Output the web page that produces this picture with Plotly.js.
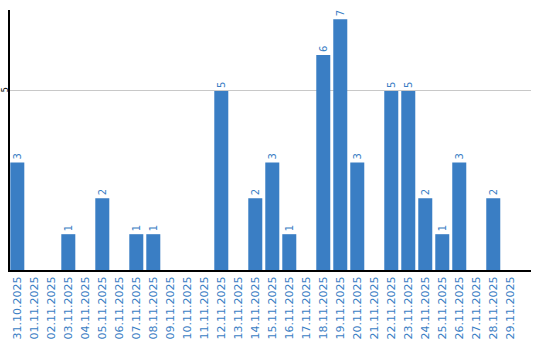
<!DOCTYPE html>
<html><head><meta charset="utf-8">
<script src="https://cdn.plot.ly/plotly-3.0.1.min.js"></script>
<style>html,body{margin:0;padding:0;background:#fff}#c{width:540px;height:340px}</style>
</head><body><div id="c"></div>
<script>
const dates = ["31.10.2025","01.11.2025","02.11.2025","03.11.2025","04.11.2025","05.11.2025","06.11.2025","07.11.2025","08.11.2025","09.11.2025","10.11.2025","11.11.2025","12.11.2025","13.11.2025","14.11.2025","15.11.2025","16.11.2025","17.11.2025","18.11.2025","19.11.2025","20.11.2025","21.11.2025","22.11.2025","23.11.2025","24.11.2025","25.11.2025","26.11.2025","27.11.2025","28.11.2025","29.11.2025"];
const counts = [3,0,0,1,0,2,0,1,1,0,0,0,5,0,2,3,1,0,6,7,3,0,5,5,2,1,3,0,2,0];
const yTicks = [5];
const blue = "#3a7ec4";
Plotly.newPlot("c", [{
  type: "bar",
  x: dates,
  y: counts,
  marker: {color: blue},
  text: counts.map(v => v ? String(v) : ""),
  textposition: "outside",
  textangle: -90,
  textfont: {family: "DejaVu Sans, sans-serif", size: 10, color: blue},
  cliponaxis: false,
  hoverinfo: "none"
}], {
  width: 540, height: 340,
  margin: {l: 10, r: 9, t: 10, b: 70},
  paper_bgcolor: "#fff", plot_bgcolor: "#fff",
  bargap: 0.176,
  showlegend: false,
  xaxis: {
    type: "category",
    range: [-0.43, 30.22],
    tickangle: -90,
    tickfont: {family: "DejaVu Sans, sans-serif", size: 11, color: blue},
    showline: true, linecolor: "#000", linewidth: 2,
    showgrid: false, ticks: "", ticklen: 0
  },
  yaxis: {
    range: [0, 7.26],
    tickvals: yTicks,
    ticktext: yTicks.map(String),
    tickangle: -90,
    tickfont: {family: "DejaVu Sans, sans-serif", size: 8, color: "#000"},
    showline: true, linecolor: "#000", linewidth: 2,
    showgrid: true, gridcolor: "#c8c8c8", gridwidth: 1,
    zeroline: false, ticks: "", ticklabelstandoff: -3
  }
}, {displayModeBar: false, staticPlot: true});
</script></body></html>
